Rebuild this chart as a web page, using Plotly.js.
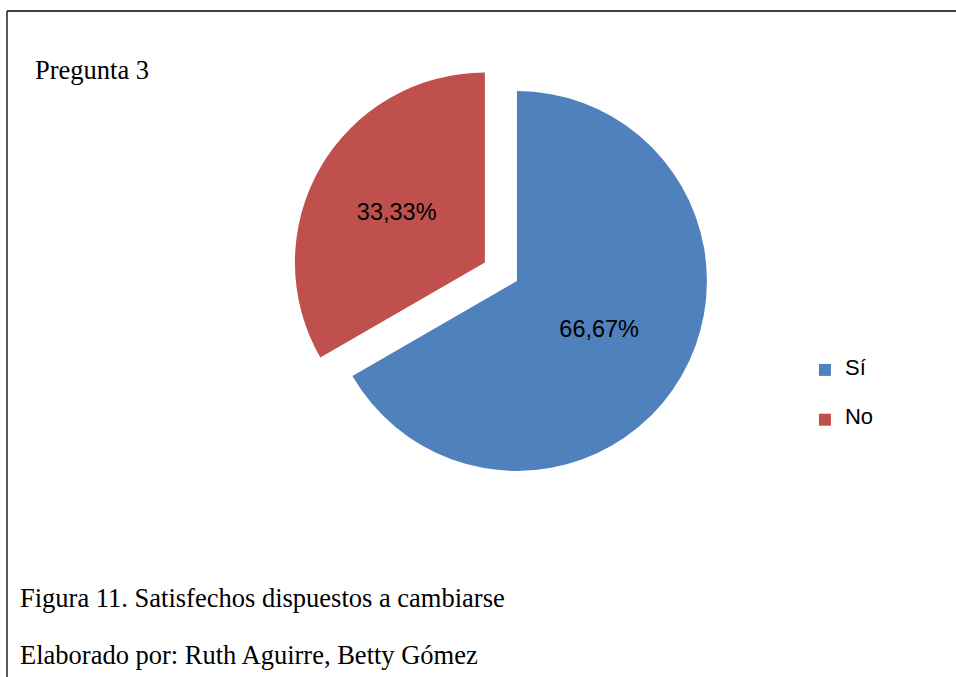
<!DOCTYPE html>
<html>
<head>
<meta charset="utf-8">
<script src="https://cdn.plot.ly/plotly-3.0.1.min.js"></script>
<style>html,body{margin:0;padding:0;background:#fff;}#chart{width:956px;height:677px;}</style>
</head>
<body>
<div id="chart"></div>
<script>
var categories = ["Sí", "No"];
var values = [66.67, 33.33];
var pulls = [0, 0.195];
var colors = ["#4F81BD", "#C0504D"];
var chartTitle = "Pregunta 3";
var captionLines = ["Figura 11. Satisfechos dispuestos a cambiarse", "Elaborado por: Ruth Aguirre, Betty Gómez"];

// legend entries padded with blank lines so entries are spaced like the reference
var legendLabels = categories.map(function (c) {
  return " <br><span style=\"font-size:22px\">" + c + "</span><br> ";
});

var trace = {
  type: "pie",
  labels: legendLabels,
  values: values,
  pull: pulls,
  sort: false,
  direction: "clockwise",
  rotation: 0,
  marker: {colors: colors, line: {width: 0}},
  texttemplate: "%{percent:.2%}",
  textposition: "inside",
  insidetextorientation: "horizontal",
  insidetextfont: {family: "Liberation Sans, Arial, sans-serif", size: 23.5, color: "#000"},
  hoverinfo: "percent",
  domain: {x: [0.3033, 0.7782], y: [0.2496, 0.9202]}
};

var layout = {
  width: 956, height: 677,
  margin: {l: 0, r: 0, t: 0, b: 0},
  paper_bgcolor: "#fff",
  separators: ",.",
  showlegend: true,
  legend: {x: 0.842, y: 1 - 395 / 677, xanchor: "left", yanchor: "middle",
           font: {family: "Liberation Sans, Arial, sans-serif", size: 12, color: "#000"},
           bgcolor: "rgba(0,0,0,0)"},
  shapes: [
    {type: "line", xref: "paper", yref: "paper", x0: 7/956, x1: 1.01, y0: 1 - 11/677, y1: 1 - 11/677, line: {color: "#000", width: 1.3}},
    {type: "line", xref: "paper", yref: "paper", x0: 7/956, x1: 7/956, y0: 1 - 11/677, y1: -0.01, line: {color: "#000", width: 1.3}}
  ],
  annotations: [
    {text: chartTitle, xref: "paper", yref: "paper", x: 33/956, y: 1 - 70/677, xanchor: "left", yanchor: "middle", showarrow: false,
     font: {family: "Liberation Serif, Times New Roman, serif", size: 26.5, color: "#000"}},
    {text: captionLines[0], xref: "paper", yref: "paper", x: 18/956, y: 1 - 598/677, xanchor: "left", yanchor: "middle", showarrow: false,
     font: {family: "Liberation Serif, Times New Roman, serif", size: 26.5, color: "#000"}},
    {text: captionLines[1], xref: "paper", yref: "paper", x: 18/956, y: 1 - 655/677, xanchor: "left", yanchor: "middle", showarrow: false,
     font: {family: "Liberation Serif, Times New Roman, serif", size: 26.5, color: "#000"}}
  ]
};

Plotly.newPlot("chart", [trace], layout, {displayModeBar: false, staticPlot: true});
</script>
</body>
</html>
